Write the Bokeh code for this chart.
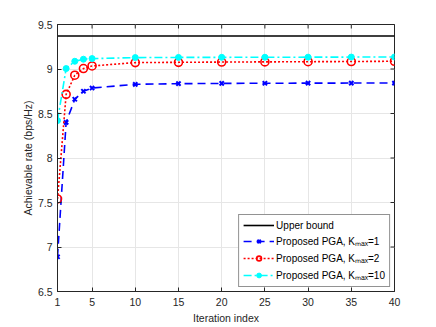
import math
from bokeh.plotting import figure
from bokeh.models import FixedTicker, Legend, LegendItem, Range1d
from bokeh.embed import file_html
from bokeh.resources import INLINE

iters = [1, 2, 3, 4, 5, 10, 15, 20, 25, 30, 35, 40]
upper_bound = [9.37] * len(iters)
k1 = [6.89, 8.40, 8.66, 8.75, 8.786, 8.828, 8.835, 8.838, 8.840, 8.841, 8.842, 8.842]
k2 = [7.54, 8.715, 8.93, 9.005, 9.034, 9.072, 9.075, 9.078, 9.080, 9.082, 9.084, 9.087]
k10 = [8.42, 9.005, 9.087, 9.11, 9.117, 9.128, 9.130, 9.131, 9.132, 9.133, 9.134, 9.135]
x_ticks = [1, 5, 10, 15, 20, 25, 30, 35, 40]
y_ticks = [6.5, 7, 7.5, 8, 8.5, 9, 9.5]
y_tick_labels = {6.5: "6.5", 7: "7", 7.5: "7.5", 8: "8", 8.5: "8.5", 9: "9", 9.5: "9.5"}
x_min, x_max = 1, 40
y_min, y_max = 6.5, 9.5

FONT = "Liberation Sans"
AX = "#262626"

p = figure(width=436, height=327, output_backend="svg", toolbar_location=None,
           x_range=Range1d(x_min, x_max), y_range=Range1d(y_min, y_max),
           min_border_left=57, min_border_top=24, min_border_right=42, min_border_bottom=36)
p.outline_line_color = AX
p.outline_line_width = 1
p.background_fill_color = "white"
p.border_fill_color = "white"

for ax in [p.xaxis[0], p.yaxis[0]]:
    ax.axis_line_color = AX
    ax.major_tick_line_color = AX
    ax.major_tick_in = 4
    ax.major_tick_out = 0
    ax.minor_tick_line_color = None
    ax.major_label_text_font = FONT
    ax.major_label_text_font_size = "10.5px"
    ax.major_label_text_color = AX
    ax.axis_label_text_font = FONT
    ax.axis_label_text_font_size = "10.5px"
    ax.axis_label_text_font_style = "normal"
    ax.axis_label_text_color = AX

p.xaxis[0].ticker = FixedTicker(ticks=x_ticks)
p.yaxis[0].ticker = FixedTicker(ticks=y_ticks)
p.yaxis[0].major_label_overrides = y_tick_labels
p.xaxis[0].axis_label = "Iteration index"
p.yaxis[0].axis_label = "Achievable rate (bps/Hz)"
p.xaxis[0].major_label_standoff = 6
p.yaxis[0].major_label_standoff = 5
p.xaxis[0].axis_label_standoff = 3
p.yaxis[0].axis_label_standoff = 1

p.xgrid.ticker = FixedTicker(ticks=x_ticks)
p.ygrid.ticker = FixedTicker(ticks=y_ticks)
p.grid.grid_line_color = "#e6e6e6"
p.grid.grid_line_width = 1

# inward ticks on top and right edges (clipped to the frame)
p.scatter(x_ticks, [y_max] * len(x_ticks), marker="dash", angle=math.pi / 2,
          size=8, line_color=AX, line_width=1)
p.scatter([x_max] * len(y_ticks), y_ticks, marker="dash", size=8,
          line_color=AX, line_width=1)

r_ub = p.line(iters, upper_bound, line_color="black", line_width=1.6)

l1 = p.line(iters, k1, line_color="#0000FF", line_width=1.6, line_dash="8 5")
m1 = p.scatter(iters, k1, marker="x", size=6, line_color="#0000FF", line_width=2)

l2 = p.line(iters, k2, line_color="#FF0000", line_width=1.6, line_dash="2 2")
m2 = p.scatter(iters, k2, marker="circle", size=8, line_color="#FF0000",
               fill_color=None, line_width=1.6)

l3 = p.line(iters, k10, line_color="#00FFFF", line_width=1.6, line_dash="8 3 2 3")
m3 = p.scatter(iters, k10, marker="circle", size=6, line_color="#00FFFF",
               fill_color="#00FFFF", line_width=1)

legend = Legend(items=[
    LegendItem(label="Upper bound", renderers=[r_ub]),
    LegendItem(label="Proposed PGA, Kₘₐₓ=1", renderers=[l1, m1]),
    LegendItem(label="Proposed PGA, Kₘₐₓ=2", renderers=[l2, m2]),
    LegendItem(label="Proposed PGA, Kₘₐₓ=10", renderers=[l3, m3]),
], location="bottom_right")
legend.label_text_font = FONT
legend.label_text_font_size = "10px"
legend.label_text_color = "black"
legend.glyph_width = 31
legend.glyph_height = 12
legend.label_standoff = 2
legend.spacing = 3
legend.padding = 4
legend.margin = 4
legend.border_line_color = AX
legend.border_line_width = 1
legend.background_fill_color = "white"
legend.background_fill_alpha = 1
p.add_layout(legend)

open("out.html", "w").write(file_html(p, INLINE))
